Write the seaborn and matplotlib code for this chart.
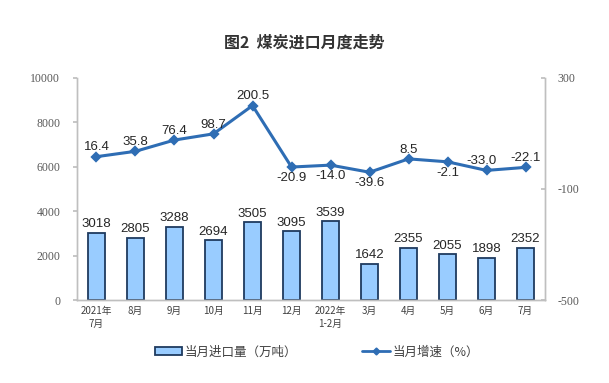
import matplotlib
matplotlib.use("Agg")
import matplotlib.pyplot as plt
import seaborn as sns
import pandas as pd
from matplotlib.patches import Patch
from matplotlib.lines import Line2D

sns.set_theme(style="white")
plt.rcParams["font.family"] = ["Noto Sans CJK SC", "DejaVu Sans"]

# data
months = ["2021年\n7月", "8月", "9月", "10月", "11月", "12月", "2022年\n1-2月",
          "3月", "4月", "5月", "6月", "7月"]
imports = [3018, 2805, 3288, 2694, 3505, 3095, 3539, 1642, 2355, 2055, 1898, 2352]
growth = [16.4, 35.8, 76.4, 98.7, 200.5, -20.9, -14.0, -39.6, 8.5, -2.1, -33.0, -22.1]
# label placement for growth values: 1 above, -1 below
growth_pos = [1, 1, 1, 1, 1, -1, -1, -1, 1, -1, 1, 1]
left_ticks = [0, 2000, 4000, 6000, 8000, 10000]
right_ticks = [-500, -100, 300]

df = pd.DataFrame({"month": months, "imports": imports, "growth": growth})

bar_fill = "#99CCFF"
bar_edge = "#1F3A5F"
line_col = "#2E6DB4"
axis_col = "#BFBFBF"
tick_col = "#595959"

fig = plt.figure(figsize=(6.09, 3.83), dpi=100)
ax = fig.add_axes([0.1264, 0.2167, 0.7686, 0.5797])

sns.barplot(data=df, x="month", y="imports", color=bar_fill, width=0.42,
            edgecolor=bar_edge, linewidth=1.3, saturation=1, ax=ax)
ax.set_ylim(0, 10000)

for i, v in enumerate(imports):
    ax.text(i, v + 120, str(v), ha="center", va="bottom", fontsize=9.5,
            family="Liberation Sans", color="#262626")

ax2 = ax.twinx()
sns.pointplot(data=df, x="month", y="growth", color=line_col, markers="D",
              linestyles="-", markersize=4.5, linewidth=2.2, ax=ax2)
ax2.set_ylim(-500, 300)

for i, (v, p) in enumerate(zip(growth, growth_pos)):
    dy = 12 if p > 0 else -18
    dx = -0.12 if i == 10 else 0
    ax2.text(i + dx, v + dy, f"{v:.1f}", ha="center",
             va="bottom" if p > 0 else "top", fontsize=9.5,
             family="Liberation Sans", color="#262626")

ax.set_xlim(-0.5, len(months) - 0.5)
for a in (ax, ax2):
    a.set_xlabel("")
    a.set_ylabel("")
    a.spines["top"].set_visible(False)
    for s in ("left", "right", "bottom"):
        a.spines[s].set_color(axis_col)
        a.spines[s].set_linewidth(1.0)

ax.set_yticks(left_ticks, [str(t) for t in left_ticks],
              fontfamily="Liberation Serif", fontsize=8.5, color=tick_col)
ax2.set_yticks(right_ticks, [str(t) for t in right_ticks],
               fontfamily="Liberation Serif", fontsize=8.5, color=tick_col)

ax.tick_params(axis="x", length=0, pad=4, labelsize=7, labelcolor="#404040")
ax.set_xticks(range(len(months)))
ax.set_xticklabels(months, linespacing=1.4)
ax.set_xticks([i + 0.5 for i in range(len(months) - 1)], minor=True)
ax.tick_params(axis="x", which="minor", length=3, color=axis_col, direction="in")
ax.tick_params(axis="y", length=3, color=axis_col, left=True, direction="out", pad=9)
ax2.tick_params(axis="y", length=3, color=axis_col, right=True, direction="in", pad=9)

fig.text(0.5, 0.89, "图2  煤炭进口月度走势", ha="center", va="center",
         fontsize=11.5, weight="bold", color="#333333")

handles = [Patch(facecolor=bar_fill, edgecolor=bar_edge, linewidth=1.3),
           Line2D([0], [0], color=line_col, marker="D", markersize=3.5, linewidth=2)]
fig.legend(handles, ["当月进口量（万吨）", "当月增速（%）"], loc="center",
           bbox_to_anchor=(0.52, 0.081), ncol=2, frameon=False, fontsize=9,
           columnspacing=5.2, handlelength=2.2, handleheight=0.6, handletextpad=0.2,
           labelcolor="#404040")

fig.savefig("out.png", dpi=100, facecolor="white")
